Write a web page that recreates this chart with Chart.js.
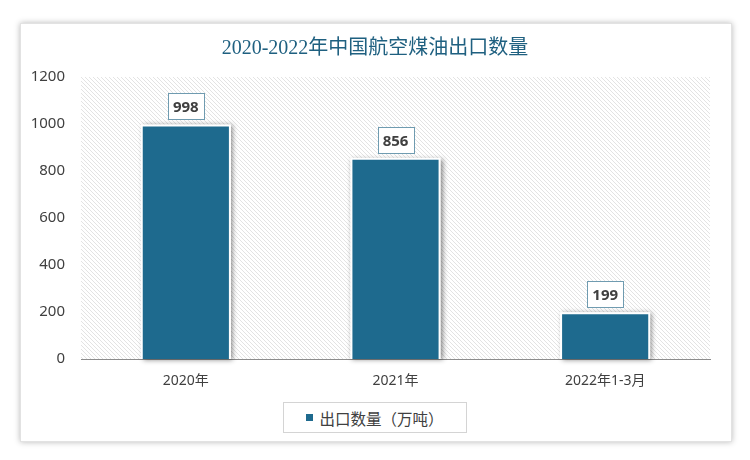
<!DOCTYPE html>
<html>
<head>
<meta charset="utf-8">
<script src="https://cdn.jsdelivr.net/npm/chart.js@4/dist/chart.umd.min.js"></script>
<style>
  html, body { margin: 0; padding: 0; background: #fff; }
  .stage { position: relative; width: 750px; height: 460px; overflow: hidden; }
  .card {
    position: absolute; left: 20px; top: 23px; width: 712px; height: 419px;
    box-sizing: border-box; border: 1px solid #e2e2e2; background: #fff;
    box-shadow: 0 0 6px rgba(0,0,0,0.28);
  }
  #chart { position: absolute; left: 0; top: 0; }
  .title {
    position: absolute; left: 0; top: 31px; width: 750px; margin: 0;
    text-align: center; line-height: 26px;
    font: 20px "Liberation Serif", "Noto Sans CJK SC", serif; color: #1f6080;
  }
  .legend {
    position: absolute; left: 283px; top: 402px; width: 184px; height: 31px;
    box-sizing: border-box; border: 1px solid #d4d4d4; background: #fff;
    display: flex; align-items: center; justify-content: center; gap: 6px;
    font: 15.5px "Noto Sans CJK SC", sans-serif; color: #404040;
  }
  .legend__swatch { width: 7px; height: 7px; }
</style>
</head>
<body>
<div class="stage">
  <div class="card"></div>
  <canvas id="chart" width="750" height="460"></canvas>
  <h1 class="title" id="title"></h1>
  <div class="legend" id="legend"></div>
</div>
<script>
// ---- data ----
const chartTitle  = '2020-2022年中国航空煤油出口数量';
const categories  = ['2020年', '2021年', '2022年1-3月'];
const seriesLabel = '出口数量（万吨）';
const exportVolume = [998, 856, 199];
const yMin = 0, yMax = 1200, yStep = 200;

const BAR_COLOR = '#1e6a8e';
const TEXT = '#404040';

// diagonal hatch used as the plot background
function makeHatch() {
  const c = document.createElement('canvas');
  c.width = 4; c.height = 4;
  const g = c.getContext('2d');
  g.strokeStyle = '#e3e3e3';
  g.lineWidth = 1;
  g.beginPath();
  g.moveTo(-1, -1); g.lineTo(5, 5);
  g.stroke();
  return g.createPattern(c, 'repeat');
}

const hatchBg = {
  id: 'hatchBg',
  beforeDraw(chart) {
    const { ctx, chartArea: a } = chart;
    ctx.save();
    ctx.fillStyle = makeHatch();
    ctx.fillRect(a.left, a.top, a.right - a.left, a.bottom - a.top);
    ctx.restore();
  }
};

// soft drop shadow behind each bar (bar element clips its own drawing)
const barShadow = {
  id: 'barShadow',
  beforeDatasetsDraw(chart) {
    const { ctx } = chart;
    chart.getDatasetMeta(0).data.forEach(el => {
      const p = el.getProps(['x', 'y', 'base', 'width'], true);
      ctx.save();
      ctx.shadowColor = 'rgba(0,0,0,0.45)';
      ctx.shadowBlur = 5;
      ctx.shadowOffsetX = 2;
      ctx.shadowOffsetY = 1;
      ctx.fillStyle = '#fff';
      ctx.fillRect(p.x - p.width / 2, p.y, p.width, p.base - p.y);
      ctx.restore();
    });
  }
};

// boxed value labels above bars
const valueBoxes = {
  id: 'valueBoxes',
  afterDatasetsDraw(chart) {
    const { ctx } = chart;
    const ds = chart.data.datasets[0];
    ctx.save();
    ctx.font = 'bold 15px "Noto Sans", sans-serif';
    chart.getDatasetMeta(0).data.forEach((el, i) => {
      const txt = String(ds.data[i]);
      const w = Math.round(ctx.measureText(txt).width) + 10;
      const h = 26;
      const x = Math.round(el.x - w / 2) + 0.5;
      const y = Math.round(el.y - 5 - h) + 0.5;
      ctx.fillStyle = '#fff';
      ctx.fillRect(x, y, w, h);
      ctx.strokeStyle = '#6f9bb0';
      ctx.lineWidth = 1;
      ctx.strokeRect(x, y, w, h);
      ctx.fillStyle = TEXT;
      ctx.textAlign = 'center';
      ctx.textBaseline = 'middle';
      ctx.fillText(txt, el.x, y + h / 2 + 1);
    });
    ctx.restore();
  }
};

document.getElementById('title').textContent = chartTitle;

const chart = new Chart(document.getElementById('chart'), {
  type: 'bar',
  data: {
    labels: categories,
    datasets: [{
      label: seriesLabel,
      data: exportVolume,
      backgroundColor: BAR_COLOR,
      borderColor: '#ffffff',
      borderWidth: 2,
      barPercentage: 0.43,
      categoryPercentage: 1
    }]
  },
  options: {
    responsive: false,
    animation: false,
    layout: { padding: { top: 77, left: 0, right: 40, bottom: 61 } },
    plugins: {
      legend: { display: false },
      tooltip: { enabled: false },
      title: { display: false }
    },
    scales: {
      x: {
        grid: { display: false, drawTicks: false },
        border: { display: true, color: '#8c8c8c', width: 1 },
        ticks: { color: TEXT, padding: 14, font: { family: '"Noto Sans", "Noto Sans CJK SC", sans-serif', size: 14 } },
        afterFit(s) { s.height = 40; }
      },
      y: {
        min: yMin, max: yMax,
        grid: { display: false, drawTicks: false },
        border: { display: false },
        ticks: {
          stepSize: yStep, color: TEXT, padding: 16,
          font: { family: '"Noto Sans", sans-serif', size: 15 },
          callback: v => String(v)
        },
        afterFit(s) { s.width = 81; }
      }
    }
  },
  plugins: [hatchBg, barShadow, valueBoxes]
});

// legend as html box under the chart
const legend = document.getElementById('legend');
chart.data.datasets.forEach(ds => {
  const sw = document.createElement('span');
  sw.className = 'legend__swatch';
  sw.style.background = ds.backgroundColor;
  const lbl = document.createElement('span');
  lbl.textContent = ds.label;
  legend.append(sw, lbl);
});
</script>
</body>
</html>
